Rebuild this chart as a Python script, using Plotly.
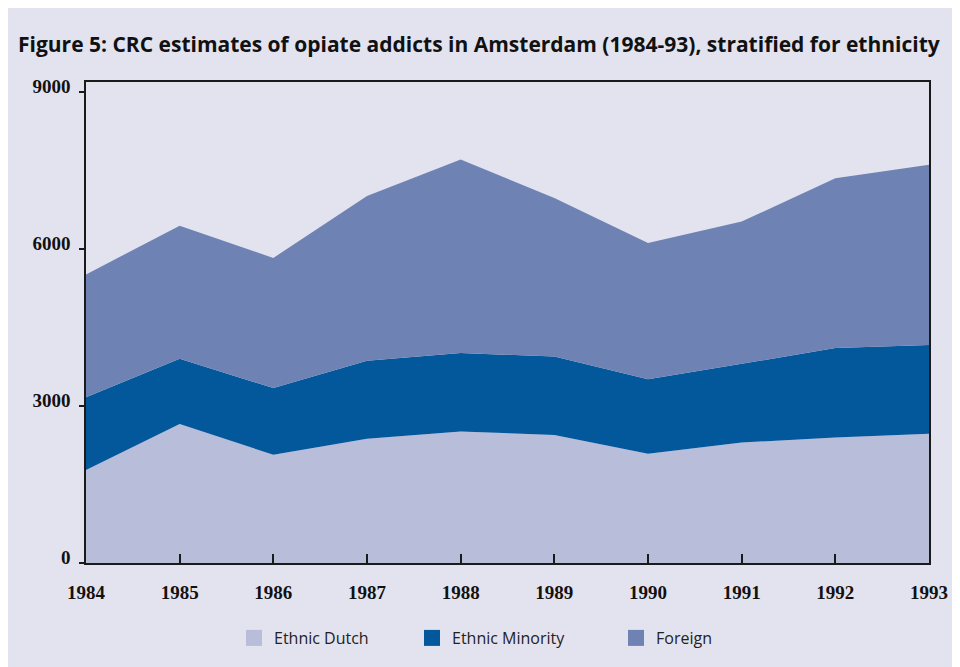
import plotly.graph_objects as go

# Data (number of opiate addicts per year)
years = [1984, 1985, 1986, 1987, 1988, 1989, 1990, 1991, 1992, 1993]
dutch = [1780, 2660, 2070, 2375, 2515, 2450, 2090, 2305, 2400, 2470]
minority = [1390, 1245, 1275, 1495, 1500, 1500, 1425, 1505, 1710, 1700]
foreign = [2350, 2545, 2490, 3150, 3705, 3030, 2605, 2720, 3250, 3445]

series_names = ['Ethnic Dutch', 'Ethnic Minority', 'Foreign']
series_colors = ['#B8BDDA', '#03589B', '#6E83B4']
y_ticks = [0, 3000, 6000, 9000]

bg = '#E3E3EF'
# the page body adds an 8px margin, so the figure is 8px smaller
W, H = 952, 659

fig = go.Figure()

# stacked areas
for name, vals, col in zip(series_names, [dutch, minority, foreign], series_colors):
    fig.add_trace(go.Scatter(
        x=years, y=vals, name=name,
        mode='none', stackgroup='one',
        fillcolor=col, showlegend=False, hoverinfo='x+y+name'
    ))

# legend entries: square markers, one legend each so they can be placed freely
legend_ids = ['legend', 'legend2', 'legend3']
for name, col, lg in zip(series_names, series_colors, legend_ids):
    fig.add_trace(go.Scatter(
        x=[None], y=[None], name=name, mode='markers',
        marker=dict(symbol='square', size=16, color=col),
        legend=lg, showlegend=True
    ))

legend_font = dict(family='Open Sans', size=16, color='#222222')
legend_common = dict(orientation='h', xref='container', yref='container',
                     xanchor='left', yanchor='middle', y=1 - 630 / H,
                     bgcolor='rgba(0,0,0,0)', font=legend_font)

axis_font = dict(family='Liberation Serif', size=19, color='#111111', weight='bold')

fig.update_layout(
    width=W, height=H,
    paper_bgcolor=bg, plot_bgcolor=bg,
    margin=dict(l=78, r=31, t=74, b=104),
    title=dict(
        text='<b>Figure 5: CRC estimates of opiate addicts in Amsterdam (1984-93), stratified for ethnicity</b>',
        font=dict(family='Open Sans', size=21, color='#111111'),
        xref='container', yref='container',
        x=10 / W, xanchor='left', y=1 - 37 / H, yanchor='middle'
    ),
    xaxis=dict(
        range=[1984, 1993], tickvals=years, ticktext=[str(y) for y in years],
        showline=True, linecolor='#1a1a1a', linewidth=1.5, mirror=True,
        ticks='inside', ticklen=9, tickcolor='#1a1a1a', tickwidth=1.5,
        showgrid=False, zeroline=False, ticklabelstandoff=11,
        tickfont=axis_font
    ),
    yaxis=dict(
        range=[0, 9200], tickvals=y_ticks, ticktext=[str(v) for v in y_ticks],
        showline=True, linecolor='#1a1a1a', linewidth=1.5, mirror=True,
        ticks='outside', ticklen=5, tickcolor='#1a1a1a', tickwidth=1.5,
        showgrid=False, zeroline=False, ticklabelstandoff=5, ticklabelshift=-6,
        tickfont=axis_font
    ),
    legend=dict(x=226 / W, **legend_common),
    legend2=dict(x=404 / W, **legend_common),
    legend3=dict(x=608 / W, **legend_common),
)

fig.write_html("out.html")
